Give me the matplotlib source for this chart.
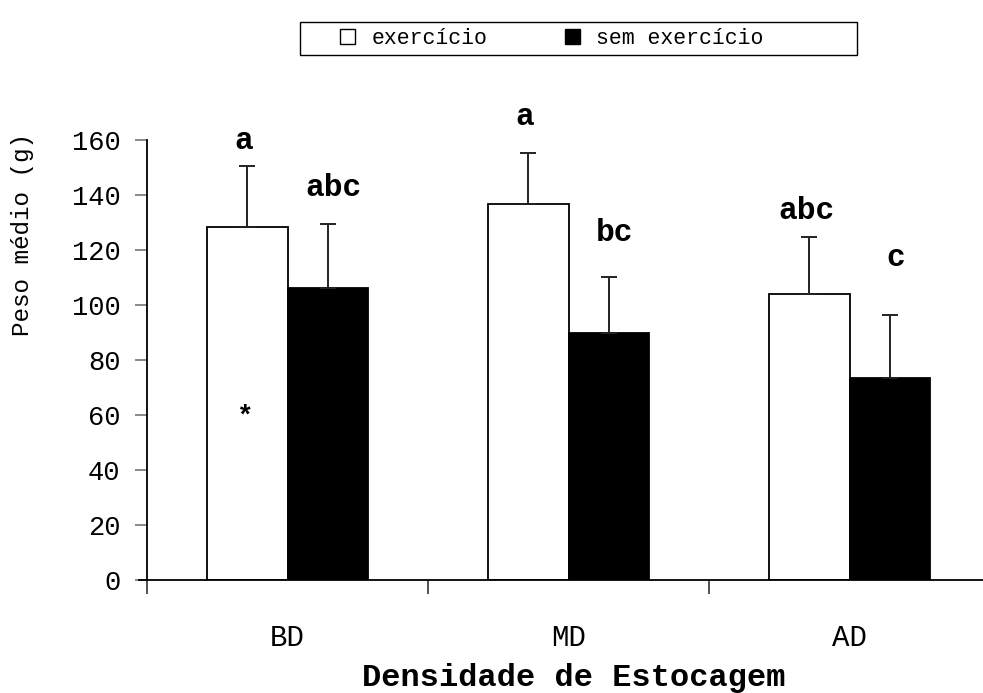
import matplotlib
matplotlib.use("Agg")
import matplotlib.pyplot as plt
import numpy as np
from matplotlib.patches import Patch, Rectangle

plt.rcParams['font.family'] = ['Liberation Mono', 'DejaVu Sans Mono']

categorias = ['BD', 'MD', 'AD']
series = ['exercício', 'sem exercício']
exercicio = [128.4, 136.9, 104.0]
exercicio_err = [22.1, 18.2, 20.9]
sem_exercicio = [106.2, 89.9, 73.5]
sem_exercicio_err = [23.3, 20.4, 23.0]
letras_ex = ['a', 'a', 'abc']
letras_sem = ['abc', 'bc', 'c']

fig = plt.figure(figsize=(9.83, 6.93), dpi=100)
ax = fig.add_axes([147 / 983, 113 / 693, 843 / 983, 440 / 693])

x = np.arange(len(categorias))
w = 0.288
ax.bar(x - w / 2, exercicio, w, color='white', edgecolor='black', linewidth=1.3,
       yerr=[np.zeros(3), exercicio_err], capsize=5.5,
       error_kw=dict(ecolor='#222222', elinewidth=1.4, capthick=1.4))
ax.bar(x + w / 2, sem_exercicio, w, color='black', edgecolor='black', linewidth=1.3,
       yerr=[np.zeros(3), sem_exercicio_err], capsize=5.5,
       error_kw=dict(ecolor='#222222', elinewidth=1.4, capthick=1.4))

# letras de significância
ly_ex = [159.6, 168.2, 134.3]
ly_sem = [142.7, 126.3, 117.2]
for i in range(3):
    ax.text(x[i] - w / 2 - 0.01, ly_ex[i], letras_ex[i], ha='center', va='center',
            fontsize=22.5, fontweight='bold', clip_on=False)
    ax.text(x[i] + w / 2 + 0.02, ly_sem[i], letras_sem[i], ha='center', va='center',
            fontsize=22.5, fontweight='bold', clip_on=False)
ax.text(x[0] - w / 2 - 0.01, 59.3, '*', ha='center', va='center', fontsize=20, fontweight='bold')

ax.set_xlim(-0.5, 2.5)
ax.set_ylim(0, 160)
ax.set_yticks(np.arange(0, 161, 20))
ax.tick_params(axis='y', direction='out', length=9, width=1.3, color='#808080',
               labelsize=19.5, pad=10)
ax.set_xticks([-0.5, 0.5, 1.5, 2.5])
ax.set_xticklabels([])
ax.set_xticks(x, minor=True)
ax.set_xticklabels(categorias, minor=True)
ax.tick_params(axis='x', which='major', direction='out', length=10, width=1.2, color='#333333')
ax.tick_params(axis='x', which='minor', length=0, labelsize=21, pad=32)

for s in ['top', 'right']:
    ax.spines[s].set_visible(False)
ax.spines['left'].set_linewidth(1.3)
ax.spines['bottom'].set_linewidth(1.3)
ax.spines['bottom'].set_bounds(-0.53, 2.5)

fig.text(23 / 983, 1 - 235 / 693, 'Peso médio (g)', rotation=90, ha='center', va='center',
         fontsize=17.5)
fig.text(574 / 983, 1 - 686 / 693, 'Densidade de Estocagem', ha='center', va='baseline',
         fontsize=23, fontweight='bold')

# moldura da legenda
fig.patches.append(Rectangle((300 / 983, 1 - 55 / 693), 557 / 983, 33 / 693,
                             transform=fig.transFigure, facecolor='white',
                             edgecolor='black', linewidth=1))
handles = [Patch(facecolor='white', edgecolor='black', linewidth=1),
           Patch(facecolor='black', edgecolor='black', linewidth=1)]
leg = fig.legend(handles, series, loc='center left', bbox_to_anchor=(340 / 983, 1 - 38.5 / 693),
                 ncol=2, fontsize=15.5, frameon=False, borderpad=0, borderaxespad=0,
                 handlelength=0.7, handleheight=0.7, handletextpad=0.75, columnspacing=3.6)

fig.savefig('out.png', dpi=100)
